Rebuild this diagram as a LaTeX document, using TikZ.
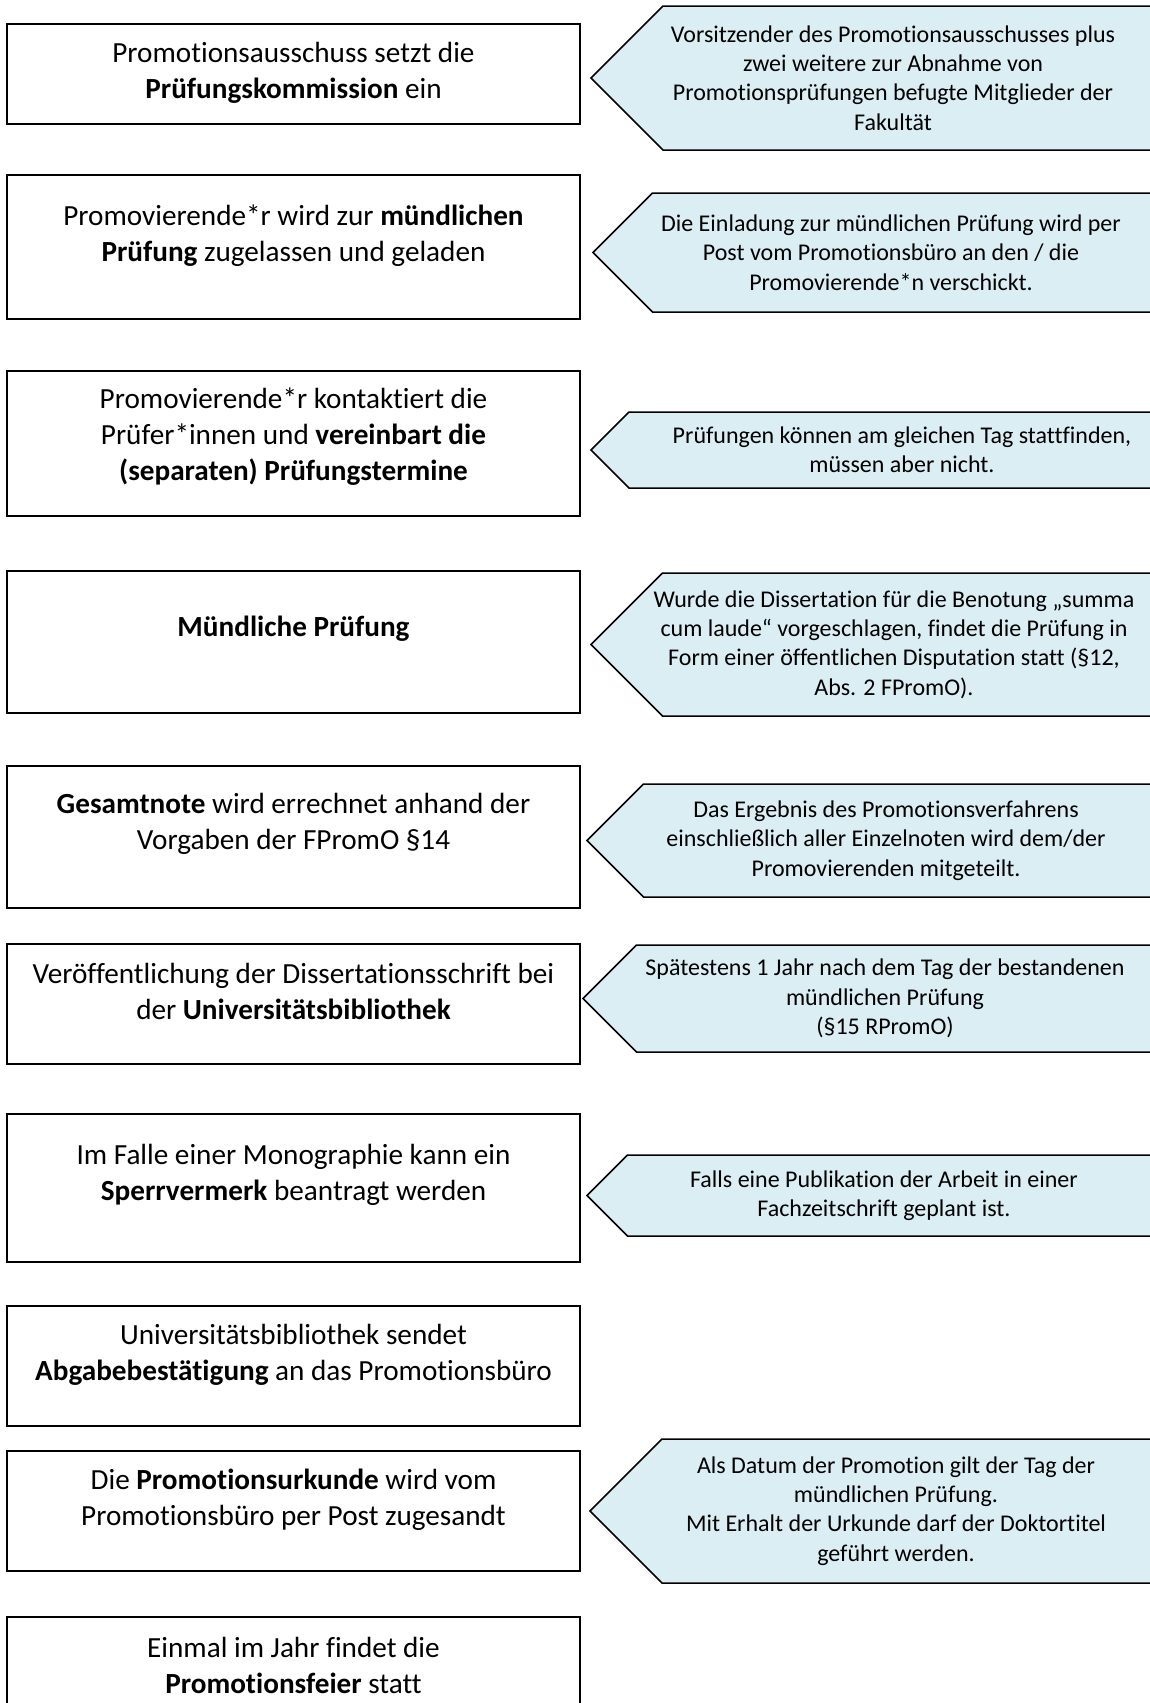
\documentclass[tikz,border=0pt]{standalone}
\usepackage{fontspec}
\setmainfont{Carlito}[Ligatures={NoCommon}]
\usepackage{tikz}
\usetikzlibrary{calc}
\usetikzlibrary{positioning}
\definecolor{hinweisblau}{RGB}{218,238,243}
\tikzstyle{schritt} = [rectangle, draw, line width=0.75pt, minimum width=286.5pt, inner sep=0pt]
\tikzstyle{schritttext} = [align=center, inner sep=0pt, font=\fontsize{14.6}{18}\selectfont]
\tikzstyle{hinweis} = [draw, fill=hinweisblau, line width=0.75pt, line join=miter]
\tikzstyle{hinweistext} = [align=center, inner sep=0pt, font=\fontsize{12}{14.7}\selectfont]
\newcommand{\Hinweis}[6]{
	\coordinate (#1-tip) at (#2,{(#3+#4)/2});
	\coordinate (#1-top) at ({#2+(#4-#3)/2},#3);
	\coordinate (#1-bot) at ({#2+(#4-#3)/2},#4);
	\filldraw[hinweis] (1170,#3) -- (#1-top) -- (#1-tip) -- (#1-bot) -- (1170,#4);
	\node[hinweistext] (#1) at (#5,{(#3+#4)/2}) {#6};
}

\begin{document}
\begin{tikzpicture}[x=0.5pt,y=-0.5pt]
	\useasboundingbox (0,0) rectangle (1150,1703);
	\clip (0,0) rectangle (1150,1703);

		\node [schritt, minimum height=50pt] (A) at (293.5,74) {};
		\node [schritttext] (A-text) at (293.5,73) {Promotionsausschuss setzt die\\\textbf{Prüfungskommission} ein};
		\node [schritt, minimum height=72pt] (B) at (293.5,247) {};
		\node [schritttext] (B-text) at (293.5,236) {Promovierende*r wird zur \textbf{mündlichen}\\\textbf{Prüfung} zugelassen und geladen};
		\node [schritt, minimum height=72.5pt] (C) at (293.5,443.5) {};
		\node [schritttext] (C-text) at (293.5,437) {Promovierende*r kontaktiert die\\Prüfer*innen und \textbf{vereinbart die}\\\textbf{(separaten) Prüfungstermine}};
		\node [schritt, minimum height=71pt] (D) at (293.5,642) {};
		\node [schritttext] (D-text) at (293.5,629) {\textbf{Mündliche Prüfung}};
		\node [schritt, minimum height=71pt] (E) at (293.5,837) {};
		\node [schritttext] (E-text) at (293.5,824) {\textbf{Gesamtnote} wird errechnet anhand der\\Vorgaben der FPromO §14};
		\node [schritt, minimum height=60pt] (F) at (293.5,1004) {};
		\node [schritttext] (F-text) at (293.5,991) {Veröffentlichung der Dissertationsschrift bei\\der \textbf{Universitätsbibliothek}};
		\node [schritt, minimum height=74pt] (G) at (293.5,1188) {};
		\node [schritttext] (G-text) at (293.5,1175) {Im Falle einer Monographie kann ein\\\textbf{Sperrvermerk} beantragt werden};
		\node [schritt, minimum height=60pt] (H) at (293.5,1366) {};
		\node [schritttext] (H-text) at (293.5,1355) {Universitätsbibliothek sendet\\\textbf{Abgabebestätigung} an das Promotionsbüro};
		\node [schritt, minimum height=60pt] (I) at (293.5,1511) {};
		\node [schritttext] (I-text) at (293.5,1500) {Die \textbf{Promotionsurkunde} wird vom\\Promotionsbüro per Post zugesandt};
		\node [schritt, minimum height=61.5pt] (J) at (293.5,1678.5) {};
		\node [schritttext] (J-text) at (293.5,1665) {Einmal im Jahr findet die\\\textbf{Promotionsfeier} statt};

		% Hinweise
		\Hinweis{HA}{591}{6}{150}{893}{Vorsitzender des Promotionsausschusses plus\\zwei weitere zur Abnahme von\\Promotionsprüfungen befugte Mitglieder der\\Fakultät}
		\Hinweis{HB}{593}{193}{312}{891}{Die Einladung zur mündlichen Prüfung wird per\\Post vom Promotionsbüro an den / die\\Promovierende*n verschickt.}
		\Hinweis{HC}{591}{412}{488}{902}{Prüfungen können am gleichen Tag stattfinden,\\müssen aber nicht.}
		\Hinweis{HD}{591}{573}{716}{894}{Wurde die Dissertation für die Benotung „summa\\cum laude“ vorgeschlagen, findet die Prüfung in\\Form einer öffentlichen Disputation statt (§12,\\Abs. 2 FPromO).}
		\Hinweis{HE}{587}{784}{897}{886}{Das Ergebnis des Promotionsverfahrens\\einschließlich aller Einzelnoten wird dem/der\\Promovierenden mitgeteilt.}
		\Hinweis{HF}{583}{945}{1052}{885}{Spätestens 1 Jahr nach dem Tag der bestandenen\\mündlichen Prüfung\\(§15 RPromO)}
		\Hinweis{HG}{587}{1155}{1236}{884}{Falls eine Publikation der Arbeit in einer\\Fachzeitschrift geplant ist.}
		\Hinweis{HI}{590}{1439}{1583}{896}{Als Datum der Promotion gilt der Tag der\\mündlichen Prüfung.\\Mit Erhalt der Urkunde darf der Doktortitel\\geführt werden.}

	\end{tikzpicture}
\end{document}
